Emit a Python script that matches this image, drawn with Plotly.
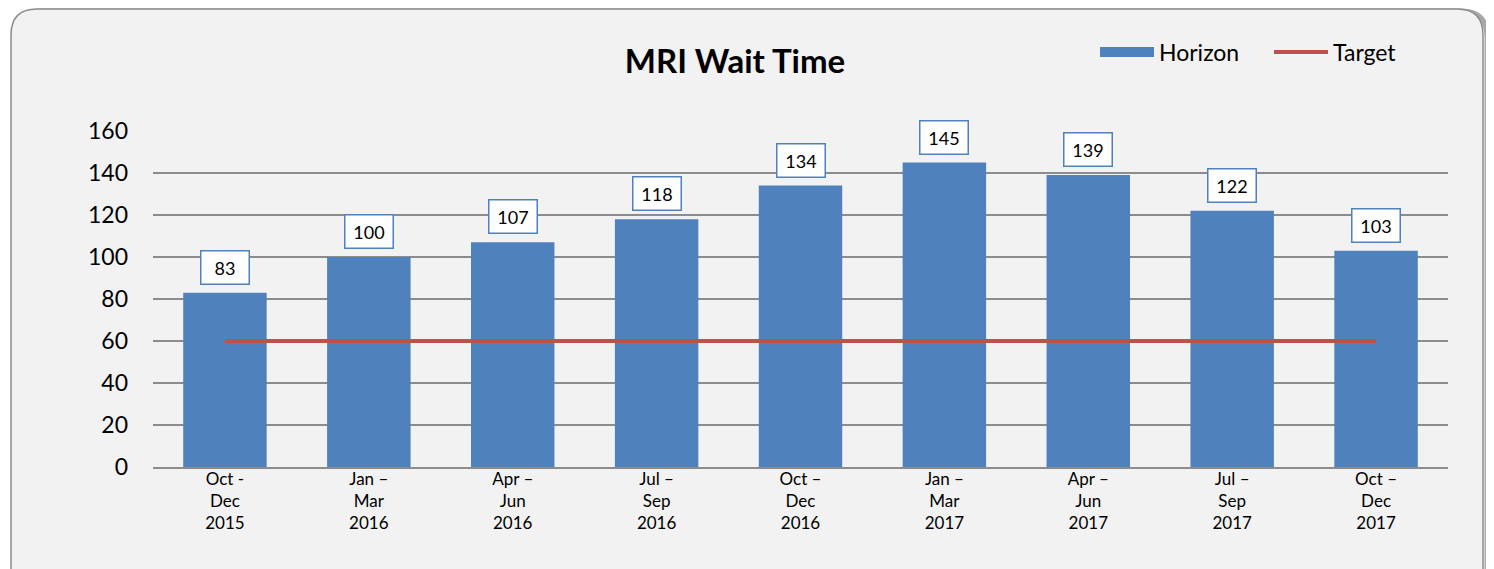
import plotly.graph_objects as go

categories = ["Oct -<br>Dec<br>2015", "Jan –<br>Mar<br>2016", "Apr –<br>Jun<br>2016",
              "Jul –<br>Sep<br>2016", "Oct –<br>Dec<br>2016", "Jan –<br>Mar<br>2017",
              "Apr –<br>Jun<br>2017", "Jul –<br>Sep<br>2017", "Oct –<br>Dec<br>2017"]
horizon = [83, 100, 107, 118, 134, 145, 139, 122, 103]
target = [60, 60, 60, 60, 60, 60, 60, 60, 60]
y_ticks = [0, 20, 40, 60, 80, 100, 120, 140, 160]

FONT = "Lato, 'Open Sans', sans-serif"
OFF = 8  # page body margin
W, H = 1494 - OFF, 569 - OFF
L, R, T, B = 153 - OFF, 1494 - 1448, 131 - OFF, 569 - 467
pw, ph = W - L - R, H - T - B
BLUE = "#4f81bd"
RED = "#c0504d"

def px(x):
    return (x - OFF - L) / pw

def py(y):
    return (H - B - (y - OFF)) / ph

fig = go.Figure()
fig.add_trace(go.Bar(x=categories, y=horizon, name="Horizon", marker_color=BLUE,
                     marker_line_width=0, showlegend=False))
# legend proxy for the bar series (wide rectangle key)
fig.add_trace(go.Scatter(x=[None], y=[None], name="Horizon", mode="lines",
                         line=dict(color=BLUE, width=15)))
fig.add_trace(go.Scatter(x=categories, y=target, name="Target", mode="lines",
                         line=dict(color=RED, width=4)))

for c, v in zip(categories, horizon):
    fig.add_annotation(x=c, y=v, text=str(v), showarrow=False, yanchor="bottom", yshift=8,
                       font=dict(family=FONT, size=18, color="#000"),
                       bgcolor="white", bordercolor=BLUE, borderwidth=1.5,
                       borderpad=6, width=35, height=20)

def rounded(x0, y0, x1, y1, r):
    return (f"M {px(x0+r)},{py(y0)} L {px(x1-r)},{py(y0)} Q {px(x1)},{py(y0)} {px(x1)},{py(y0+r)} "
            f"L {px(x1)},{py(y1-r)} Q {px(x1)},{py(y1)} {px(x1-r)},{py(y1)} "
            f"L {px(x0+r)},{py(y1)} Q {px(x0)},{py(y1)} {px(x0)},{py(y1-r)} "
            f"L {px(x0)},{py(y0+r)} Q {px(x0)},{py(y0)} {px(x0+r)},{py(y0)} Z")

shapes = [
    dict(type="path", xref="paper", yref="paper", path=rounded(14, 11, 1487, 600, 26),
         line=dict(color="#a8a8a8", width=5), layer="below"),
    dict(type="path", xref="paper", yref="paper", path=rounded(11, 9, 1483, 598, 26),
         line=dict(color="#8c8c8c", width=1.5), fillcolor="#f2f2f2", layer="below"),
]

fig.update_layout(
    width=W, height=H,
    margin=dict(l=L, r=R, t=T, b=B),
    paper_bgcolor="white", plot_bgcolor="white",
    font=dict(family=FONT, color="#000"),
    title=dict(text="<b>MRI Wait Time</b>", xref="container", x=(735 - OFF) / W, xanchor="center",
               yref="container", y=1 - (61 - OFF) / H, yanchor="middle",
               font=dict(size=33, family=FONT, color="#000")),
    bargap=0.42,
    showlegend=True,
    legend=dict(orientation="h", x=px(1095), xanchor="left", y=py(52), yanchor="middle",
                font=dict(size=23, family=FONT), bgcolor="rgba(0,0,0,0)",
                itemwidth=54, entrywidth=105, tracegroupgap=0),
    shapes=shapes,
    xaxis=dict(showgrid=False, showline=True, linecolor="#8c8c8c", linewidth=1.5,
               tickfont=dict(size=17, family=FONT), ticks="", ticklabelstandoff=-4,
               fixedrange=True),
    yaxis=dict(range=[0, 160], tickvals=y_ticks, showgrid=True, gridcolor="#8c8c8c",
               gridwidth=1.5, zeroline=False, showline=False, ticks="",
               tickfont=dict(size=23, family=FONT), ticklabelstandoff=24, fixedrange=True),
)

fig.write_html("out.html")
